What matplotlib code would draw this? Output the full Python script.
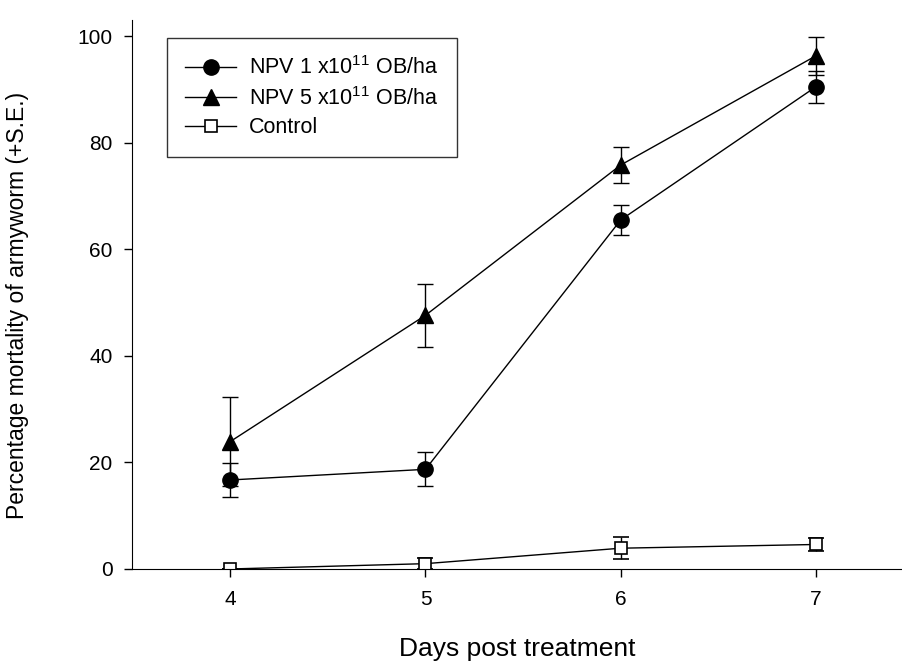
import matplotlib
matplotlib.use("Agg")
import matplotlib.pyplot as plt
from matplotlib.lines import Line2D

plt.rcParams['font.family'] = ['Liberation Sans', 'DejaVu Sans']
plt.rcParams['mathtext.fontset'] = 'custom'
plt.rcParams['mathtext.rm'] = 'Liberation Sans'
plt.rcParams['mathtext.it'] = 'Liberation Sans'

days = [4, 5, 6, 7]
npv1 = [16.7, 18.7, 65.5, 90.5]
npv1_se = [3.2, 3.2, 2.8, 3.0]
npv5 = [23.9, 47.6, 75.8, 96.3]
npv5_se = [8.3, 5.9, 3.3, 3.6]
control = [0.0, 1.0, 3.9, 4.6]
control_se = [0.0, 1.0, 2.1, 1.3]

labels = [r'NPV 1 x10$^{11}$ OB/ha', r'NPV 5 x10$^{11}$ OB/ha', 'Control']

fig = plt.figure(figsize=(9.02, 6.63), dpi=100)
ax = fig.add_axes([0.1463, 0.1418, 0.8537, 0.828])

common = dict(color='black', lw=1.0, elinewidth=1.0, capsize=6, capthick=1.0)
ax.errorbar(days, npv1, yerr=npv1_se, marker='o', ms=11, mfc='black', mec='black', **common)
ax.errorbar(days, npv5, yerr=npv5_se, marker='^', ms=11, mfc='black', mec='black', **common)
ax.errorbar(days, control, yerr=control_se, marker='s', ms=9, mfc='white', mec='black',
            mew=1.2, **common)

handles = [
    Line2D([], [], color='black', lw=1.0, marker='o', ms=11, mfc='black'),
    Line2D([], [], color='black', lw=1.0, marker='^', ms=11, mfc='black'),
    Line2D([], [], color='black', lw=1.0, marker='s', ms=9, mfc='white', mew=1.2),
]

ax.set_xlim(3.497, 7.44)
ax.set_ylim(0, 103)
ax.set_xticks(days)
ax.set_yticks([0, 20, 40, 60, 80, 100])
ax.tick_params(axis='both', direction='out', length=6, width=1, labelsize=15)
ax.tick_params(axis='x', pad=9)
ax.tick_params(axis='y', pad=8)
ax.spines['top'].set_visible(False)
ax.spines['right'].set_visible(False)

ax.set_xlabel('Days post treatment', fontsize=19, labelpad=20)
ax.set_ylabel('Percentage mortality of armyworm (+S.E.)', fontsize=16.5)
ax.yaxis.set_label_coords(-0.134, 0.48)

leg = ax.legend(handles, labels, loc='upper left', bbox_to_anchor=(0.0455, 0.967),
                borderaxespad=0, fontsize=15.5, frameon=True, fancybox=False,
                handlelength=2.37, borderpad=0.85, labelspacing=0.35, handletextpad=0.6)
leg.get_frame().set_edgecolor('black')
leg.get_frame().set_linewidth(1.0)

fig.savefig('out.png', dpi=100)
